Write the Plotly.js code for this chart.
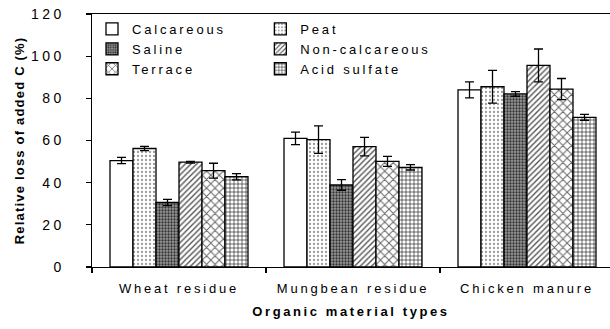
<!DOCTYPE html>
<html>
<head>
<meta charset="utf-8">
<script src="https://cdn.plot.ly/plotly-3.0.1.min.js"></script>
<style>
  html, body { margin: 0; padding: 0; background: #fff; }
  #chart { width: 610px; height: 329px; }
  svg text, svg tspan { letter-spacing: 2.8px !important; }
  svg .ytick text { letter-spacing: 3.5px !important; }
  svg .xtitle { letter-spacing: 2.6px !important; }
  svg .ytitle { letter-spacing: 1.2px !important; }
</style>
</head>
<body>
<div id="chart"></div>
<script>
// Data
const categories = ["Wheat residue", "Mungbean residue", "Chicken manure"];
const soilTypes = ["Calcareous", "Peat", "Saline", "Non-calcareous", "Terrace", "Acid sulfate"];

const calcareous    = [50.5, 61.0, 84.0];
const calcareousErr = [1.5, 3.0, 3.8];
const peat          = [56.2, 60.4, 85.5];
const peatErr       = [1.0, 6.5, 7.8];
const saline        = [30.6, 38.9, 82.1];
const salineErr     = [1.5, 2.5, 1.1];
const nonCalcareous    = [49.7, 57.1, 95.6];
const nonCalcareousErr = [0.4, 4.4, 7.8];
const terrace       = [45.7, 50.1, 84.4];
const terraceErr    = [3.5, 2.4, 5.0];
const acidSulfate   = [42.8, 47.3, 71.0];
const acidSulfateErr = [1.5, 1.3, 1.4];

const yTicks = [0, 20, 40, 60, 80, 100, 120];

const seriesValues = [calcareous, peat, saline, nonCalcareous, terrace, acidSulfate];
const seriesErrors = [calcareousErr, peatErr, salineErr, nonCalcareousErr, terraceErr, acidSulfateErr];

const patterns = [
  { shape: "", bgcolor: "#ffffff" },
  { shape: ".", fgcolor: "#9a9a9a", bgcolor: "#ffffff", size: 4, solidity: 0.25 },
  { shape: ".", fgcolor: "#333333", bgcolor: "#999999", size: 3, solidity: 0.45 },
  { shape: "/", fgcolor: "#555555", bgcolor: "#ffffff", size: 4, solidity: 0.35 },
  { shape: "x", fgcolor: "#666666", bgcolor: "#ffffff", size: 6, solidity: 0.3 },
  { shape: "+", fgcolor: "#222222", bgcolor: "#ffffff", size: 4, solidity: 0.3 }
];
const legendOf = ["legend", "legend2", "legend", "legend2", "legend", "legend2"];

const traces = soilTypes.map((name, i) => ({
  type: "bar",
  name: name,
  x: categories,
  y: seriesValues[i],
  legend: legendOf[i],
  marker: {
    color: "#ffffff",
    line: { color: "#000000", width: 1.3 },
    pattern: patterns[i]
  },
  error_y: {
    type: "data",
    array: seriesErrors[i],
    visible: true,
    color: "#000000",
    thickness: 1.3,
    width: 4.5
  }
}));

const fontFam = "Liberation Sans, Arial, sans-serif";

const layout = {
  width: 610,
  height: 329,
  margin: { l: 92, r: 0, t: 14, b: 62 },
  paper_bgcolor: "#ffffff",
  plot_bgcolor: "#ffffff",
  font: { family: fontFam, size: 13, color: "#000000" },
  barmode: "group",
  bargap: 0.207,
  bargroupgap: 0,
  showlegend: true,
  xaxis: {
    type: "category",
    range: [-0.5, 2.477],
    showline: true,
    linecolor: "#000000",
    linewidth: 1.3,
    mirror: true,
    showgrid: false,
    zeroline: false,
    tickson: "boundaries",
    ticks: "outside",
    ticklen: 5,
    tickwidth: 1.3,
    tickcolor: "#000000",
    ticklabelstandoff: 9,
    tickfont: { family: fontFam, size: 13 },
    title: { text: "Organic material types", font: { family: fontFam, size: 13, weight: "bold" }, standoff: 12 }
  },
  yaxis: {
    range: [0, 120],
    tickvals: yTicks,
    ticktext: yTicks.map(String),
    showline: true,
    linecolor: "#000000",
    linewidth: 1.3,
    showgrid: false,
    zeroline: false,
    ticks: "outside",
    ticklen: 5,
    tickwidth: 1.3,
    tickcolor: "#000000",
    ticklabelstandoff: 18,
    tickfont: { family: fontFam, size: 14 },
    title: { text: "Relative loss of added C (%)", font: { family: fontFam, size: 13, weight: "bold" }, standoff: 3 }
  },
  legend: {
    x: 0.0, y: 1, xanchor: "left", yanchor: "top",
    bgcolor: "rgba(0,0,0,0)", borderwidth: 0,
    font: { family: fontFam, size: 13 },
    tracegroupgap: 0
  },
  legend2: {
    x: 0.325, y: 1, xanchor: "left", yanchor: "top",
    bgcolor: "rgba(0,0,0,0)", borderwidth: 0,
    font: { family: fontFam, size: 13 },
    tracegroupgap: 0
  }
};

Plotly.newPlot("chart", traces, layout, { displayModeBar: false, staticPlot: true });
</script>
</body>
</html>
